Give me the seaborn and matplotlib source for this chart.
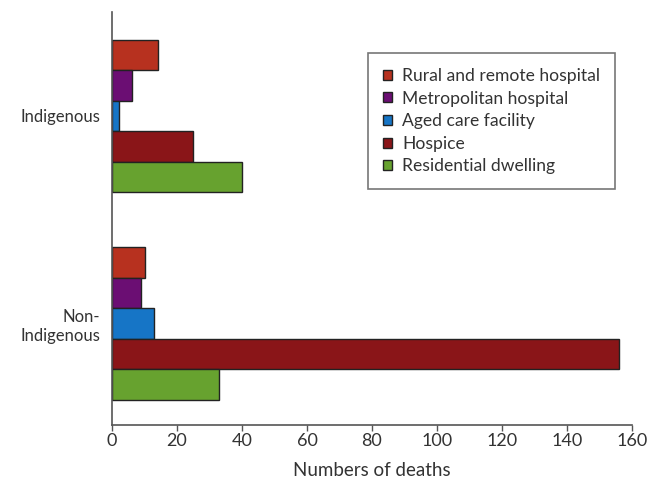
import matplotlib
matplotlib.use("Agg")
import matplotlib.pyplot as plt
import seaborn as sns
import pandas as pd

groups = ["Indigenous", "Non-\nIndigenous"]
places = ["Rural and remote hospital", "Metropolitan hospital", "Aged care facility",
          "Hospice", "Residential dwelling"]
indigenous = [14, 6, 2, 25, 40]
non_indigenous = [10, 9, 13, 156, 33]
colors = ["#B7311F", "#6B0E73", "#1675C6", "#8A1518", "#67A22F"]

rows = []
for g, vals in zip(groups, [indigenous, non_indigenous]):
    for p, v in zip(places, vals):
        rows.append({"group": g, "place": p, "deaths": v})
df = pd.DataFrame(rows)

sns.set_style("white")
plt.rcParams["font.family"] = ["Lato", "DejaVu Sans"]

fig = plt.figure(figsize=(6.55, 4.84), dpi=100)
ax = fig.add_axes([112/655, 1 - 425/484, 520/655, 413/484])

sns.barplot(data=df, x="deaths", y="group", hue="place", hue_order=places,
            palette=colors, orient="h", width=0.735, ax=ax,
            edgecolor="#222222", linewidth=1.0, saturation=1)

ax.set_xlim(0, 160)
ax.set_ylim(1.489, -0.501)
ax.set_xticks(range(0, 161, 20))
ax.set_xlabel("Numbers of deaths", fontsize=13.5, color="#333333", labelpad=9)
ax.set_ylabel("")
for s in ["top", "right"]:
    ax.spines[s].set_visible(False)
for s in ["left", "bottom"]:
    ax.spines[s].set_color("#555555")
    ax.spines[s].set_linewidth(1.2)
ax.tick_params(axis="x", bottom=True, length=4, width=1, color="#555555",
               labelsize=13, labelcolor="#333333", pad=2)
ax.tick_params(axis="y", left=False, labelsize=12, labelcolor="#333333", pad=5)
for lbl in ax.get_yticklabels():
    lbl.set_horizontalalignment("right")
    lbl.set_multialignment("right")
    lbl.set_linespacing(1.25)

leg = ax.legend(loc="upper left",
                bbox_to_anchor=((368 - 112) / 520, 1 - (53 - 12) / 413),
                bbox_transform=ax.transAxes, frameon=True, fancybox=False,
                fontsize=12.6, handlelength=0.5, handleheight=0.5, handletextpad=0.6,
                labelspacing=0.38, borderpad=0.85, borderaxespad=0)
leg.get_frame().set_edgecolor("#555555")
leg.get_frame().set_linewidth(1.2)
for t in leg.get_texts():
    t.set_color("#333333")

fig.savefig("out.png", dpi=100)
